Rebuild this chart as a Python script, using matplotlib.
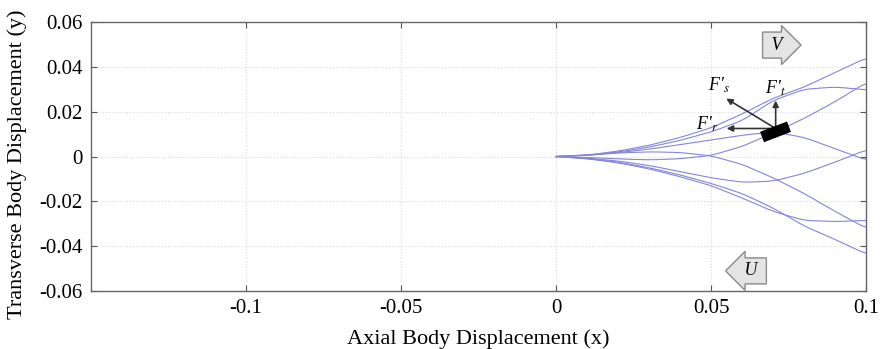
import matplotlib
matplotlib.use("Agg")
import matplotlib.pyplot as plt
import numpy as np

plt.rcParams['font.family'] = ['Liberation Serif', 'DejaVu Serif']
plt.rcParams['mathtext.fontset'] = 'stix'

# trajectories (x step 0.01)
x = [0.0, 0.01, 0.02, 0.03, 0.04, 0.05, 0.06, 0.07, 0.08, 0.09, 0.1]
y_paths = [
    [0, 0.0007, 0.0024, 0.005, 0.0085, 0.0128, 0.019, 0.026, 0.031, 0.0375, 0.044],
    [0, 0.0006, 0.002, 0.0042, 0.0072, 0.011, 0.016, 0.025, 0.030, 0.031, 0.0297],
    [0, 0.0005, 0.0017, 0.0033, 0.0053, 0.0074, 0.0095, 0.011, 0.0085, 0.0035, -0.0016],
    [0, -0.0004, -0.0011, -0.0015, -0.001, 0.0005, 0.0045, 0.0105, 0.017, 0.0245, 0.033],
    [0, 0.0006, 0.0016, 0.0021, 0.0018, 0.0003, -0.0035, -0.0095, -0.0165, -0.0245, -0.032],
    [0, -0.0007, -0.002, -0.004, -0.0067, -0.0095, -0.0115, -0.011, -0.0075, -0.0025, 0.003],
    [0, -0.001, -0.0028, -0.0055, -0.009, -0.013, -0.0185, -0.0245, -0.0285, -0.029, -0.0285],
    [0, -0.0009, -0.0025, -0.005, -0.0082, -0.012, -0.0165, -0.023, -0.031, -0.037, -0.0435],
]

xticks = [-0.1, -0.05, 0, 0.05, 0.1]
xtick_labels = ['-0.1', '-0.05', '0', '0.05', '0.1']
yticks = [-0.06, -0.04, -0.02, 0, 0.02, 0.04, 0.06]
ytick_labels = ['-0.06', '-0.04', '-0.02', '0', '0.02', '0.04', '0.06']

fig = plt.figure(figsize=(8.83, 3.49), dpi=100)
ax = fig.add_axes([0.103, 0.166, 0.878, 0.771])

xs = np.linspace(0, 0.1, 200)
k = np.ones(11) / 11
for yp in y_paths:
    ys = np.interp(xs, x, yp)
    ys_s = np.convolve(np.pad(ys, 5, mode='edge'), k, mode='valid')
    ax.plot(xs, ys_s, color='#8585da', lw=0.8)

ax.set_xlim(-0.15, 0.1)
ax.set_ylim(-0.06, 0.06)
ax.set_xticks(xticks)
ax.set_xticklabels(xtick_labels)
ax.set_yticks(yticks)
ax.set_yticklabels(ytick_labels)
ax.tick_params(direction='in', top=True, right=True, length=4, color='#555555',
               labelsize=15, pad=6)
for s in ax.spines.values():
    s.set_color('#666666')
    s.set_linewidth(1.0)
ax.grid(True, color='#d9d9d9', ls=':', lw=0.8)
ax.set_axisbelow(True)

ax.set_xlabel('Axial Body Displacement (x)', fontsize=16, labelpad=8)
ax.set_ylabel('Transverse Body Displacement (y)', fontsize=16)
ax.yaxis.set_label_coords(-0.083, 0.47)

# body and force arrows
ax.plot([0.0664, 0.0751], [0.0087, 0.0133], color='black', lw=8,
        solid_capstyle='butt', zorder=5)
origin = (0.0708, 0.0125)
akw = dict(arrowstyle='-|>', color='#333333', lw=1.2, mutation_scale=9)
ax.annotate('', xy=(0.0541, 0.0125), xytext=origin, arrowprops=akw)
ax.annotate('', xy=(0.0708, 0.0262), xytext=origin, arrowprops=akw)
ax.annotate('', xy=(0.0541, 0.0265), xytext=origin, arrowprops=akw)
for lab, lx, ly in [('r', 0.0487, 0.0143), ('t', 0.0708, 0.0305), ('s', 0.0525, 0.0318)]:
    ax.text(lx, ly, "F'" + r"$_{\mathit{" + lab + "}}$", fontsize=13, style='italic',
            ha='center', va='center')

# direction arrows
ax.text(0.0712, 0.0497, ' V ', fontsize=13, style='italic', ha='center', va='center',
        bbox=dict(boxstyle='rarrow,pad=0.25', fc='#e4e4e4', ec='#8a8a8a', lw=1))
ax.text(0.0628, -0.0510, ' U ', fontsize=13, style='italic', ha='center', va='center',
        bbox=dict(boxstyle='larrow,pad=0.25', fc='#e4e4e4', ec='#8a8a8a', lw=1))

fig.savefig('out.png', dpi=100)
